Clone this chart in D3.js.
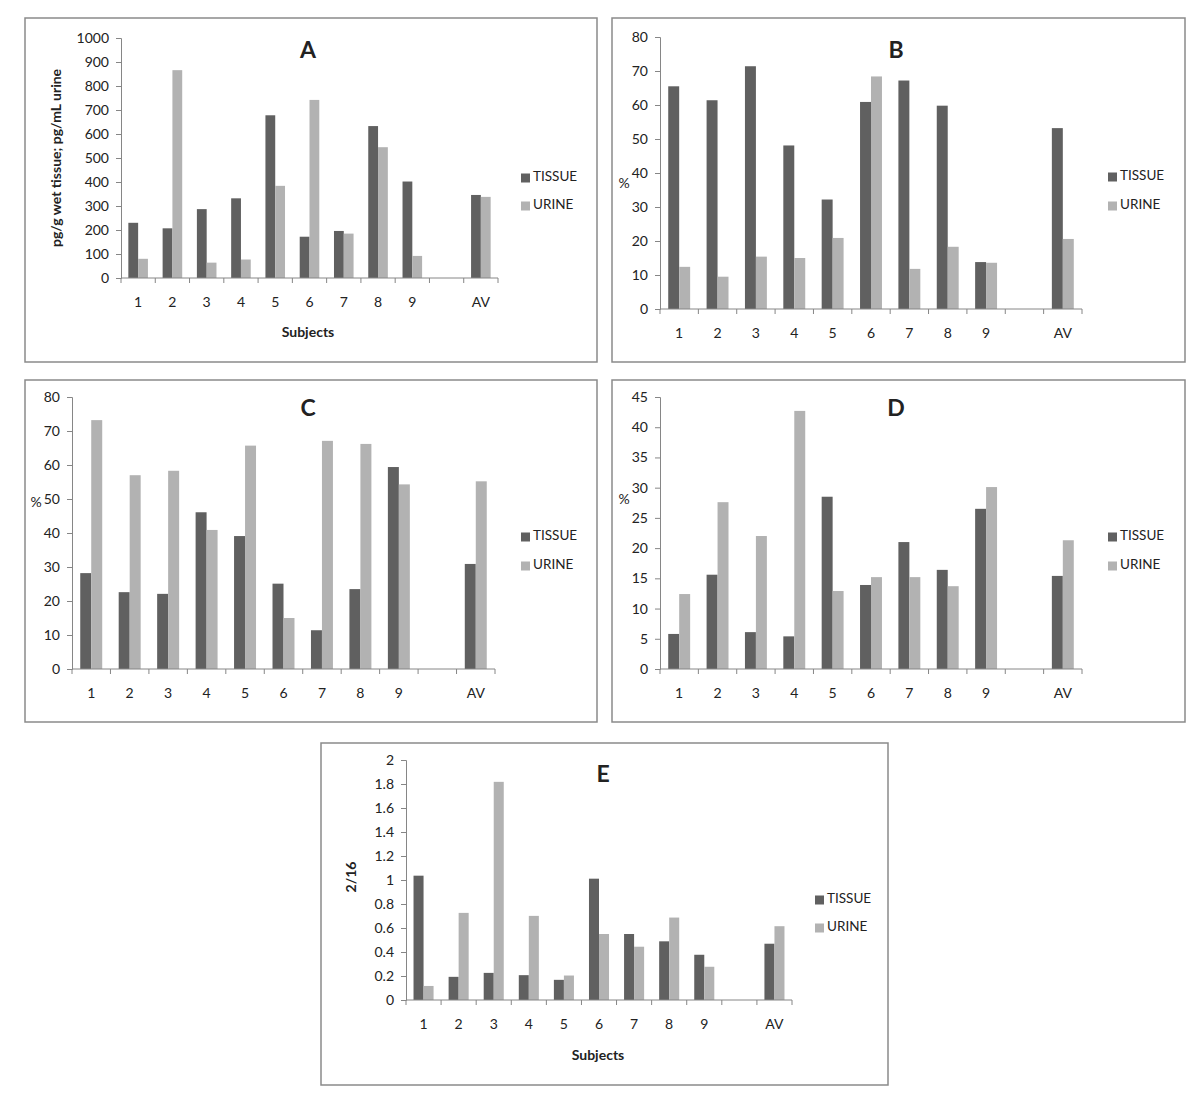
<!DOCTYPE html>
<html><head><meta charset="utf-8">
<script src="https://cdn.jsdelivr.net/npm/d3@7"></script>
<style>
body{margin:0;background:#fff;}
text{font-family:Lato,"Open Sans",sans-serif;fill:#222;}
</style></head>
<body><svg id="c" width="1200" height="1103"></svg>
<script>
// ---- data ----
const categories = ["1","2","3","4","5","6","7","8","9"," ","AV"];
const seriesNames = ["TISSUE","URINE"];

const aTissue = [230,207,287,332,678,172,196,633,402,null,346];
const aUrine  = [80,866,64,77,384,742,185,545,92,null,338];
const aTicks  = [0,100,200,300,400,500,600,700,800,900,1000];

const bTissue = [65.5,61.4,71.4,48.1,32.2,60.9,67.2,59.8,13.8,null,53.2];
const bUrine  = [12.4,9.5,15.4,15.0,20.9,68.4,11.8,18.3,13.6,null,20.6];
const bTicks  = [0,10,20,30,40,50,60,70,80];

const cTissue = [28.2,22.6,22.1,46.1,39.1,25.1,11.4,23.5,59.4,null,30.9];
const cUrine  = [73.2,57.0,58.3,40.9,65.7,15.0,67.1,66.2,54.3,null,55.2];
const cTicks  = [0,10,20,30,40,50,60,70,80];

const dTissue = [5.8,15.6,6.1,5.4,28.5,13.9,21.0,16.4,26.5,null,15.4];
const dUrine  = [12.4,27.6,22.0,42.7,12.9,15.2,15.2,13.7,30.1,null,21.3];
const dTicks  = [0,5,10,15,20,25,30,35,40,45];

const eTissue = [1.036,0.193,0.226,0.207,0.168,1.011,0.550,0.489,0.377,null,0.469];
const eUrine  = [0.117,0.726,1.818,0.701,0.204,0.550,0.444,0.687,0.277,null,0.615];
const eTicks  = [0,0.2,0.4,0.6,0.8,1,1.2,1.4,1.6,1.8,2];

// ---- layout ----
const colors = {TISSUE:"#606060", URINE:"#b2b2b2"};
const panels = [
  {title:"A", tissue:aTissue, urine:aUrine, ticks:aTicks,
   box:[25,18,572,344], x:[121,498], y:[278,38], titlePos:[308,52], xlabY:303,
   xTitle:[308,333], yTitle:{text:"pg/g wet tissue; pg/mL urine",x:57,y:158,rot:true,bold:true},
   legend:[521,178,206]},
  {title:"B", tissue:bTissue, urine:bUrine, ticks:bTicks,
   box:[612,18,573,344], x:[660,1082], y:[309,37], titlePos:[896,52], xlabY:334,
   xTitle:null, yTitle:{text:"%",x:624,y:184,rot:false,bold:false},
   legend:[1108,177,206]},
  {title:"C", tissue:cTissue, urine:cUrine, ticks:cTicks,
   box:[25,380,572,342], x:[72,495], y:[669,397], titlePos:[308,410], xlabY:694,
   xTitle:null, yTitle:{text:"%",x:36,y:503,rot:false,bold:false},
   legend:[521,537,566]},
  {title:"D", tissue:dTissue, urine:dUrine, ticks:dTicks,
   box:[612,380,573,342], x:[660,1082], y:[669,397], titlePos:[896,410], xlabY:694,
   xTitle:null, yTitle:{text:"%",x:624,y:500,rot:false,bold:false},
   legend:[1108,537,566]},
  {title:"E", tissue:eTissue, urine:eUrine, ticks:eTicks,
   box:[321,743,567,342], x:[406,792], y:[1000,760], titlePos:[603,776], xlabY:1025,
   xTitle:[598,1056], yTitle:{text:"2/16",x:352,y:877,rot:true,bold:true},
   legend:[815,900,928]}
];

const svg = d3.select("#c");
svg.append("rect").attr("width",1200).attr("height",1103).attr("fill","#fff");

panels.forEach(p => {
  const g = svg.append("g");
  g.append("rect").attr("x",p.box[0]).attr("y",p.box[1]).attr("width",p.box[2]).attr("height",p.box[3])
    .attr("fill","#fff").attr("stroke","#8a8a8a").attr("stroke-width",1.5);

  const x = d3.scaleBand().domain(categories).range(p.x).padding(0);
  const xi = d3.scaleBand().domain(seriesNames).range([0,x.bandwidth()]).paddingInner(0).paddingOuter(0.75);
  const y = d3.scaleLinear().domain([p.ticks[0], p.ticks[p.ticks.length-1]]).range(p.y);

  // bars
  const rows = categories.map((c,i)=>({c, TISSUE:p.tissue[i], URINE:p.urine[i]}));
  seriesNames.forEach(s=>{
    g.selectAll(null).data(rows.filter(r=>r[s]!=null)).enter().append("rect")
      .attr("x",d=>x(d.c)+xi(s)).attr("width",xi.bandwidth())
      .attr("y",d=>y(d[s])).attr("height",d=>y(0)-y(d[s]))
      .attr("fill",colors[s]);
  });

  // y axis
  const yAxis = d3.axisLeft(y).tickValues(p.ticks).tickSize(5).tickPadding(7)
    .tickFormat(d=>String(+d.toFixed(2)));
  const ya = g.append("g").attr("transform",`translate(${p.x[0]},0)`).call(yAxis);
  ya.select(".domain").attr("stroke","#868686");
  ya.selectAll(".tick line").attr("stroke","#868686");
  ya.selectAll(".tick text").attr("font-size",14).attr("fill","#222");

  // x axis
  const xa = g.append("g").attr("transform",`translate(0,${y(0)})`);
  xa.append("line").attr("x1",p.x[0]).attr("x2",p.x[1]).attr("stroke","#868686");
  const bounds = categories.map(c=>x(c)).concat([p.x[1]]);
  xa.selectAll(null).data(bounds).enter().append("line")
    .attr("x1",d=>d).attr("x2",d=>d).attr("y1",0).attr("y2",5).attr("stroke","#868686");
  g.selectAll(null).data(categories).enter().append("text")
    .attr("x",c=>x(c)+x.bandwidth()/2).attr("y",p.xlabY).attr("text-anchor","middle")
    .attr("dominant-baseline","middle").attr("font-size",14).text(c=>c.trim());

  // titles
  g.append("text").attr("x",p.titlePos[0]).attr("y",p.titlePos[1]).attr("text-anchor","middle")
    .attr("dominant-baseline","middle").attr("font-size",23).attr("font-weight","bold").text(p.title);
  if(p.xTitle){
    g.append("text").attr("x",p.xTitle[0]).attr("y",p.xTitle[1]).attr("text-anchor","middle")
      .attr("dominant-baseline","middle").attr("font-size",14).attr("font-weight","bold").text("Subjects");
  }
  const yt = g.append("text").attr("text-anchor","middle").attr("dominant-baseline","middle")
    .attr("font-size",14).attr("font-weight",p.yTitle.bold?"bold":"normal").text(p.yTitle.text);
  if(p.yTitle.rot) yt.attr("transform",`translate(${p.yTitle.x},${p.yTitle.y}) rotate(-90)`);
  else yt.attr("x",p.yTitle.x).attr("y",p.yTitle.y);

  // legend
  seriesNames.forEach((s,i)=>{
    const ly = p.legend[1+i];
    g.append("rect").attr("x",p.legend[0]).attr("y",ly-4.5).attr("width",9).attr("height",9).attr("fill",colors[s]);
    g.append("text").attr("x",p.legend[0]+12).attr("y",ly).attr("dominant-baseline","middle")
      .attr("font-size",13.5).text(s);
  });
});
</script></body></html>
